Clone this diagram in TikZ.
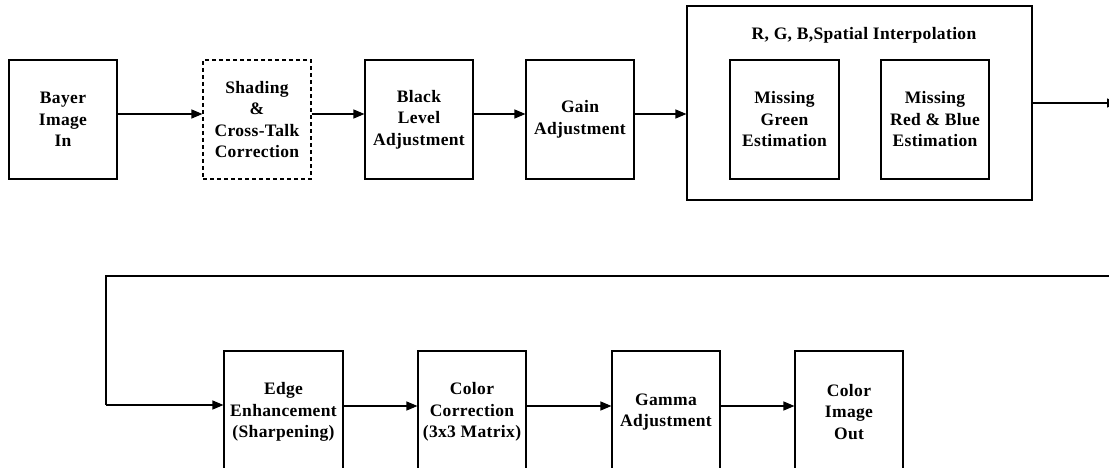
\documentclass[tikz,border=0pt]{standalone}
\usepackage{fontspec}
\setmainfont{Liberation Serif}[LetterSpace=2]
\usetikzlibrary{arrows.meta}
\begin{document}
\begin{tikzpicture}[x=1pt,y=-1pt,
  blk/.style={draw, line width=1.1pt, minimum width=108pt, minimum height=119pt,
    inner sep=0pt, align=center, font=\fontsize{17.5}{21.5}\selectfont\bfseries},
  dashblk/.style={blk, dashed, dash pattern=on 4pt off 3pt},
  flow/.style={line width=1.1pt, -{Triangle[length=11pt,width=9pt]}},
  wire/.style={line width=1.1pt}]
\useasboundingbox (0,0) rectangle (1109,468);

% top row
\node[blk] (bayer) at (63,119.5) {Bayer\\Image\\In};
\node[dashblk] (shade) at (257,119.5) {Shading\\\&\\Cross-Talk\\Correction};
\node[blk] (black) at (419,119.5) {Black\\Level\\Adjustment};
\node[blk] (gain) at (580,119.5) {Gain\\Adjustment};

% interpolation group
\node[blk, minimum width=345pt, minimum height=194pt] (interp) at (859.5,103) {};
\node[font=\fontsize{17.5}{21.5}\selectfont\bfseries] (title) at (864,35) {R, G, B,Spatial Interpolation};
\node[blk, minimum width=109pt] (green) at (784.5,119.5) {Missing\\Green\\Estimation};
\node[blk] (rb) at (935,119.5) {Missing\\Red \& Blue\\Estimation};

\coordinate (outR) at (1118,103);
\coordinate (inR) at (1115,276);
\coordinate (turnA) at (106,276);
\coordinate (turnB) at (106,405);

% bottom row
\node[blk, minimum width=119pt, minimum height=122pt] (edge) at (283.5,412) {Edge\\Enhancement\\(Sharpening)};
\node[blk, minimum height=122pt] (ccm) at (472,412) {Color\\Correction\\(3x3 Matrix)};
\node[blk, minimum height=122pt] (gamma) at (666,412) {Gamma\\Adjustment};
\node[blk, minimum height=122pt] (out) at (849,412) {Color\\Image\\Out};

% connectors, top row
\draw[flow] (bayer.east |- 0,114) -- (shade.west |- 0,114);
\draw[flow] (shade.east |- 0,114) -- (black.west |- 0,114);
\draw[flow] (black.east |- 0,114) -- (gain.west |- 0,114);
\draw[flow] (gain.east |- 0,114) -- (interp.west |- 0,114);
\draw[flow] (interp.east |- outR) -- (outR);

% wrap-around to second row
\draw[wire] (inR) -- (turnA) -- (turnB);
\draw[flow] (turnB) -- (edge.west |- turnB);
\draw[flow] (edge.east |- 0,406) -- (ccm.west |- 0,406);
\draw[flow] (ccm.east |- 0,406) -- (gamma.west |- 0,406);
\draw[flow] (gamma.east |- 0,406) -- (out.west |- 0,406);
\end{tikzpicture}
\end{document}
